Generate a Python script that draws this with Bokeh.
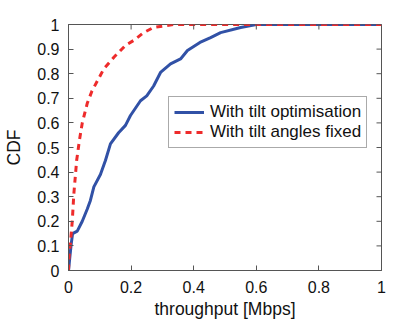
import math
from bokeh.plotting import figure
from bokeh.models import Legend, LegendItem, FixedTicker, Range1d
from bokeh.embed import file_html
from bokeh.resources import INLINE

# CDF of throughput (Mbps)
opt_x = [0, 0.004, 0.008, 0.013, 0.028, 0.044, 0.06, 0.07, 0.081, 0.102, 0.118, 0.134, 0.16,
         0.182, 0.198, 0.23, 0.25, 0.272, 0.294, 0.326, 0.358, 0.38, 0.42, 0.454, 0.486,
         0.55, 0.60, 1.0]
opt_y = [0, 0.05, 0.10, 0.15, 0.16, 0.20, 0.25, 0.285, 0.34, 0.39, 0.447, 0.515, 0.56,
         0.59, 0.63, 0.69, 0.71, 0.75, 0.805, 0.84, 0.86, 0.894, 0.927, 0.947, 0.967,
         0.988, 1.0, 1.0]

fix_x = [0, 0.002, 0.006, 0.012, 0.017, 0.026, 0.035, 0.044, 0.06, 0.075, 0.092, 0.113,
         0.145, 0.182, 0.208, 0.24, 0.272, 0.336, 1.0]
fix_y = [0, 0.06, 0.11, 0.2, 0.31, 0.447, 0.53, 0.6, 0.68, 0.73, 0.77, 0.82,
         0.867, 0.915, 0.935, 0.967, 0.988, 1.0, 1.0]

x_ticks = [0, 0.2, 0.4, 0.6, 0.8, 1]
y_ticks = [0, 0.1, 0.2, 0.3, 0.4, 0.5, 0.6, 0.7, 0.8, 0.9, 1]
labels = ["With tilt optimisation", "With tilt angles fixed"]

FONT = "Liberation Sans"
AXC = "#555555"

p = figure(width=415, height=321, output_backend="svg", toolbar_location=None,
           x_range=Range1d(0, 1), y_range=Range1d(0, 1),
           min_border_left=68, min_border_right=34, min_border_top=24, min_border_bottom=51)
p.grid.visible = False
p.outline_line_color = AXC
p.background_fill_color = "white"
p.border_fill_color = "white"

r1 = p.line(opt_x, opt_y, line_color="#3151a6", line_width=3)
r2 = p.line(fix_x, fix_y, line_color="#ee2b2b", line_width=3, line_dash="6 5")

# inward ticks on the top and right edges (box style)
p.scatter(x=x_ticks, y=[1] * len(x_ticks), marker="dash", angle=math.pi / 2,
          size=10, line_color=AXC, line_width=1)
p.scatter(x=[1] * len(y_ticks), y=y_ticks, marker="dash", angle=0,
          size=10, line_color=AXC, line_width=1)

for ax, ticks in ((p.xaxis[0], x_ticks), (p.yaxis[0], y_ticks)):
    ax.ticker = FixedTicker(ticks=ticks)
    ax.major_tick_in = 5
    ax.major_tick_out = 0
    ax.minor_tick_line_color = None
    ax.axis_line_color = AXC
    ax.major_tick_line_color = AXC
    ax.major_label_text_font = FONT
    ax.major_label_text_color = "#111111"
    ax.major_label_text_font_size = "16px"
    ax.major_label_overrides = {0: "0", 1: "1"}
    ax.axis_label_text_font = FONT
    ax.axis_label_text_font_size = "17.5px"
    ax.axis_label_text_font_style = "normal"
    ax.axis_label_text_color = "#111111"

p.xaxis.axis_label = "throughput [Mbps]"
p.yaxis.axis_label = "CDF"
p.xaxis[0].major_label_standoff = 10
p.xaxis[0].axis_label_standoff = 3
p.yaxis[0].major_label_standoff = 9
p.yaxis[0].axis_label_standoff = 10

legend = Legend(items=[LegendItem(label=labels[0], renderers=[r1]),
                       LegendItem(label=labels[1], renderers=[r2])],
                location=(100, 122))
legend.label_text_font = FONT
legend.label_text_font_size = "17px"
legend.label_text_color = "#111111"
legend.glyph_width = 30
legend.label_standoff = 6
legend.spacing = 0
legend.padding = 5
legend.margin = 0
legend.border_line_color = AXC
legend.border_line_width = 1
legend.label_height = 18
legend.glyph_height = 18
p.add_layout(legend, "center")

open("out.html", "w").write(file_html(p, INLINE))
